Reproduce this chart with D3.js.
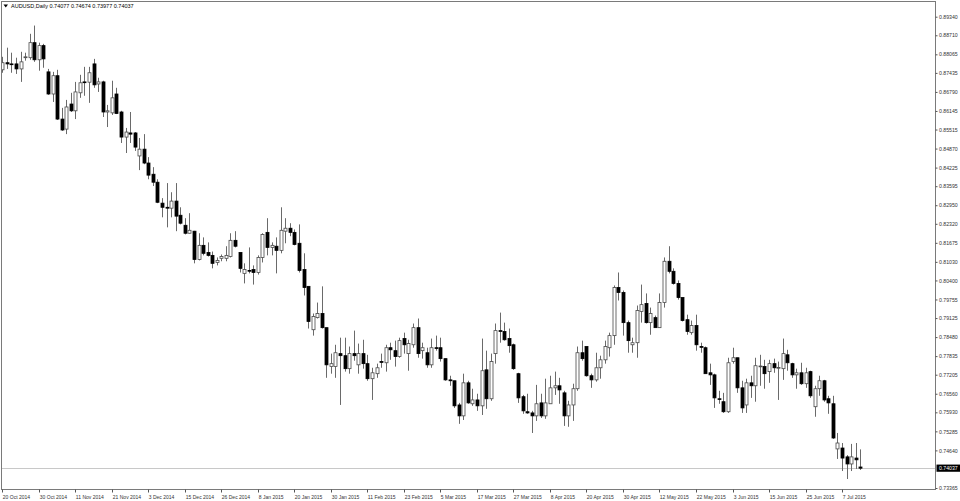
<!DOCTYPE html>
<html>
<head>
<meta charset="utf-8">
<script src="https://cdn.jsdelivr.net/npm/d3@7/dist/d3.min.js"></script>
<style>
  html,body{margin:0;padding:0;background:#fff;}
  svg{display:block;}
  text{font-family:"Liberation Sans",Arial,sans-serif;}
</style>
</head>
<body>
<svg id="chart" width="960" height="501"></svg>
<script>
const symbolTitle = "AUDUSD,Daily";
const headerValues = ["0.74077", "0.74674", "0.73977", "0.74037"];

const open = [0.8754,0.8778,0.8774,0.8774,0.8757,0.8795,0.8795,0.8846,0.8788,0.8836,
0.8747,0.8672,0.8734,0.8587,0.8553,0.8638,0.8615,0.8676,0.8713,0.8712,
0.8774,0.8706,0.8713,0.8611,0.8608,0.8672,0.8611,0.8526,0.8540,0.8540,
0.8462,0.8485,0.8438,0.8400,0.8373,0.8302,0.8288,0.8285,0.8309,0.8261,
0.8227,0.8200,0.8207,0.8111,0.8159,0.8135,0.8125,0.8101,0.8115,0.8115,
0.8121,0.8176,0.8135,0.8064,0.8074,0.8077,0.8067,0.8118,0.8203,0.8152,
0.8156,0.8142,0.8207,0.8217,0.8203,0.8166,0.8077,0.8020,0.7873,0.7914,
0.7928,0.7880,0.7748,0.7748,0.7792,0.7785,0.7741,0.7792,0.7754,0.7792,
0.7758,0.7707,0.7724,0.7765,0.7761,0.7812,0.7802,0.7782,0.7843,0.7792,
0.7822,0.7880,0.7802,0.7795,0.7754,0.7812,0.7812,0.7775,0.7703,0.7700,
0.7618,0.7581,0.7693,0.7622,0.7635,0.7615,0.7737,0.7639,0.7792,0.7870,
0.7867,0.7843,0.7822,0.7724,0.7646,0.7595,0.7591,0.7581,0.7625,0.7581,
0.7622,0.7676,0.7683,0.7659,0.7581,0.7618,0.7673,0.7795,0.7816,0.7717,
0.7703,0.7744,0.7771,0.7812,0.7853,0.8016,0.7999,0.7897,0.7822,0.7829,
0.7935,0.7962,0.7897,0.7914,0.7880,0.7965,0.8105,0.8071,0.8030,0.7982,
0.7907,0.7863,0.7887,0.7816,0.7812,0.7727,0.7720,0.7639,0.7629,0.7595,
0.7765,0.7778,0.7676,0.7618,0.7693,0.7683,0.7748,0.7748,0.7731,0.7758,
0.7744,0.7741,0.7788,0.7758,0.7720,0.7727,0.7690,0.7731,0.7612,0.7673,
0.7700,0.7639,0.7622,0.7469,0.7472,0.7442,0.7418,0.7438,0.74077];

const high = [0.8798,0.8829,0.8812,0.8795,0.8815,0.8812,0.8876,0.8904,0.8846,0.8842,
0.8757,0.8747,0.8754,0.8625,0.8652,0.8676,0.8713,0.8737,0.8764,0.8764,
0.8791,0.8727,0.8717,0.8635,0.8717,0.8693,0.8615,0.8557,0.8611,0.8543,
0.8523,0.8536,0.8458,0.8424,0.8383,0.8319,0.8370,0.8339,0.8370,0.8288,
0.8251,0.8268,0.8208,0.8200,0.8186,0.8169,0.8138,0.8118,0.8128,0.8156,
0.8200,0.8207,0.8135,0.8098,0.8152,0.8091,0.8125,0.8200,0.8251,0.8169,
0.8186,0.8288,0.8251,0.8234,0.8213,0.8230,0.8132,0.8020,0.7928,0.7965,
0.8020,0.7880,0.7792,0.7822,0.7846,0.7846,0.7816,0.7870,0.7826,0.7839,
0.7788,0.7744,0.7758,0.7792,0.7822,0.7829,0.7836,0.7846,0.7863,0.7839,
0.7894,0.7911,0.7829,0.7812,0.7843,0.7853,0.7846,0.7775,0.7717,0.7700,
0.7625,0.7724,0.7700,0.7673,0.7656,0.7843,0.7802,0.7792,0.7894,0.7931,
0.7897,0.7877,0.7826,0.7727,0.7652,0.7656,0.7598,0.7686,0.7656,0.7707,
0.7717,0.7731,0.7710,0.7666,0.7632,0.7690,0.7816,0.7836,0.7816,0.7724,
0.7795,0.7785,0.7836,0.7863,0.8023,0.8067,0.8006,0.7904,0.7846,0.7955,
0.8026,0.7996,0.7948,0.7921,0.7996,0.8118,0.8156,0.8081,0.8040,0.7982,
0.7924,0.7904,0.7924,0.7829,0.7816,0.7758,0.7724,0.7666,0.7659,0.7778,
0.7812,0.7778,0.7700,0.7707,0.7717,0.7778,0.7788,0.7771,0.7771,0.7775,
0.7765,0.7843,0.7805,0.7761,0.7741,0.7761,0.7744,0.7734,0.7683,0.7717,
0.7703,0.7649,0.7649,0.7523,0.7489,0.7448,0.7486,0.7489,0.74674];

const low = [0.8744,0.8757,0.8744,0.8740,0.8713,0.8785,0.8788,0.8781,0.8751,0.8761,
0.8669,0.8645,0.8584,0.8547,0.8536,0.8611,0.8587,0.8659,0.8666,0.8642,
0.8693,0.8679,0.8594,0.8560,0.8601,0.8604,0.8506,0.8472,0.8506,0.8479,
0.8414,0.8434,0.8383,0.8360,0.8302,0.8254,0.8220,0.8254,0.8207,0.8230,
0.8196,0.8199,0.8098,0.8108,0.8125,0.8121,0.8081,0.8091,0.8105,0.8105,
0.8118,0.8152,0.8067,0.8030,0.8064,0.8026,0.8060,0.8101,0.8125,0.8125,
0.8064,0.8132,0.8166,0.8190,0.8159,0.8067,0.7989,0.7877,0.7853,0.7911,
0.7877,0.7710,0.7724,0.7710,0.7618,0.7731,0.7724,0.7768,0.7724,0.7741,
0.7700,0.7635,0.7710,0.7744,0.7731,0.7771,0.7748,0.7778,0.7792,0.7734,
0.7812,0.7778,0.7775,0.7744,0.7744,0.7802,0.7765,0.7700,0.7683,0.7608,
0.7554,0.7567,0.7622,0.7615,0.7598,0.7584,0.7605,0.7632,0.7758,0.7829,
0.7836,0.7795,0.7737,0.7625,0.7588,0.7588,0.7523,0.7564,0.7574,0.7571,
0.7622,0.7652,0.7622,0.7547,0.7544,0.7564,0.7666,0.7768,0.7714,0.7676,
0.7697,0.7707,0.7758,0.7782,0.7822,0.7972,0.7853,0.7795,0.7795,0.7778,
0.7897,0.7894,0.7856,0.7880,0.7880,0.7948,0.8064,0.8026,0.7975,0.7901,
0.7856,0.7856,0.7802,0.7795,0.7724,0.7686,0.7608,0.7622,0.7591,0.7591,
0.7758,0.7659,0.7591,0.7591,0.7642,0.7629,0.7683,0.7673,0.7693,0.7727,
0.7635,0.7703,0.7734,0.7710,0.7673,0.7686,0.7676,0.7642,0.7578,0.7649,
0.7629,0.7588,0.7503,0.7435,0.7394,0.7367,0.7394,0.7401,0.73977];

const close = [0.8778,0.8774,0.8773,0.8757,0.8781,0.8798,0.8846,0.8788,0.8836,0.8791,
0.8672,0.8734,0.8587,0.8550,0.8628,0.8615,0.8679,0.8710,0.8712,0.8744,
0.8703,0.8713,0.8611,0.8615,0.8659,0.8606,0.8526,0.8543,0.8536,0.8492,
0.8485,0.8438,0.8397,0.8373,0.8305,0.8288,0.8285,0.8309,0.8258,0.8234,
0.8200,0.8210,0.8111,0.8159,0.8132,0.8125,0.8098,0.8108,0.8121,0.8125,
0.8176,0.8156,0.8081,0.8077,0.8073,0.8067,0.8118,0.8196,0.8152,0.8159,
0.8142,0.8210,0.8217,0.8203,0.8162,0.8074,0.8016,0.7901,0.7918,0.7928,
0.7880,0.7754,0.7758,0.7795,0.7785,0.7741,0.7792,0.7785,0.7792,0.7758,
0.7707,0.7727,0.7744,0.7764,0.7812,0.7805,0.7782,0.7836,0.7822,0.7826,
0.7880,0.7792,0.7812,0.7754,0.7812,0.7811,0.7775,0.7703,0.7700,0.7615,
0.7581,0.7693,0.7625,0.7635,0.7615,0.7734,0.7639,0.7765,0.7870,0.7869,
0.7839,0.7819,0.7741,0.7642,0.7598,0.7591,0.7581,0.7622,0.7581,0.7625,
0.7676,0.7683,0.7669,0.7581,0.7618,0.7673,0.7795,0.7775,0.7717,0.7703,
0.7744,0.7771,0.7816,0.7853,0.8016,0.7999,0.7897,0.7836,0.7829,0.7938,
0.7958,0.7897,0.7928,0.7880,0.7965,0.8105,0.8071,0.8030,0.7982,0.7904,
0.7867,0.7887,0.7822,0.7815,0.7724,0.7720,0.7642,0.7638,0.7595,0.7761,
0.7778,0.7676,0.7608,0.7693,0.7683,0.7751,0.7750,0.7724,0.7758,0.7744,
0.7745,0.7792,0.7761,0.7720,0.7727,0.7690,0.7727,0.7649,0.7673,0.7700,
0.7635,0.7625,0.7506,0.7489,0.7438,0.7418,0.7442,0.7432,0.74037];

const priceTicks = [0.89340,0.88710,0.88065,0.87435,0.86790,0.86145,0.85515,0.84870,0.84225,
0.83595,0.82950,0.82320,0.81675,0.81030,0.80400,0.79755,0.79125,0.78480,0.77835,
0.77205,0.76560,0.75930,0.75285,0.74640,0.73365];

const dateLabels = ["20 Oct 2014","30 Oct 2014","11 Nov 2014","21 Nov 2014","3 Dec 2014",
"15 Dec 2014","26 Dec 2014","8 Jan 2015","20 Jan 2015","30 Jan 2015","11 Feb 2015",
"23 Feb 2015","5 Mar 2015","17 Mar 2015","27 Mar 2015","8 Apr 2015","20 Apr 2015",
"30 Apr 2015","12 May 2015","22 May 2015","3 Jun 2015","15 Jun 2015","25 Jun 2015","7 Jul 2015"];
const barsPerLabel = 8;

const lastPrice = 0.74037;

// ---- layout ----
const W = 960, H = 501;
const frame = {left: 1.5, top: 1.5, right: 935.5, bottom: 489.5};
const svg = d3.select("#chart");

const n = open.length;
const candles = d3.range(n).map(i => ({i, o: open[i], h: high[i], l: low[i], c: close[i]}));

const x = d3.scaleLinear().domain([0, n - 1]).range([2.3, 860.3]);
const y = d3.scaleLinear().domain([0.73365, 0.89340]).range([488, 16.7]);

svg.append("defs").append("clipPath").attr("id", "plotclip")
  .append("rect").attr("x", frame.left + 0.5).attr("y", frame.top + 0.5)
  .attr("width", frame.right - frame.left - 1).attr("height", frame.bottom - frame.top - 1);

// current price line
svg.append("line")
  .attr("x1", frame.left).attr("x2", frame.right)
  .attr("y1", Math.round(y(lastPrice)) + 0.5).attr("y2", Math.round(y(lastPrice)) + 0.5)
  .attr("stroke", "#c8c8c8").attr("stroke-width", 1);

const plot = svg.append("g").attr("clip-path", "url(#plotclip)");

const bodyW = 3;
const g = plot.selectAll("g.candle").data(candles).join("g").attr("class", "candle");

g.append("line")
  .attr("x1", d => Math.round(x(d.i)) + 0.5).attr("x2", d => Math.round(x(d.i)) + 0.5)
  .attr("y1", d => y(d.h)).attr("y2", d => y(d.l))
  .attr("stroke", "#6a6a6a").attr("stroke-width", 1);

g.append("rect")
  .attr("x", d => Math.round(x(d.i)) + 0.5 - bodyW / 2)
  .attr("width", bodyW)
  .attr("y", d => y(Math.max(d.o, d.c)))
  .attr("height", d => Math.max(0.8, Math.abs(y(d.o) - y(d.c))))
  .attr("fill", d => d.c > d.o ? "#ffffff" : "#000000")
  .attr("stroke", d => d.c > d.o ? "#4a4a4a" : "#000000")
  .attr("stroke-width", 0.8);

// frame
svg.append("rect")
  .attr("x", frame.left).attr("y", frame.top)
  .attr("width", frame.right - frame.left).attr("height", frame.bottom - frame.top)
  .attr("fill", "none").attr("stroke", "#7a7a7a").attr("stroke-width", 1);

// price axis
const yAxis = d3.axisRight(y).tickValues(priceTicks).tickSize(2).tickPadding(1.5)
  .tickFormat(d3.format(".5f"));
const ya = svg.append("g").attr("transform", `translate(${frame.right},0)`).call(yAxis);
ya.select(".domain").remove();
ya.selectAll(".tick line").attr("stroke", "#555");
ya.selectAll(".tick text").attr("fill", "#333").attr("font-size", 5.2)
  .attr("font-family", "'Liberation Sans', Arial, sans-serif");

// last price label
const ly = y(lastPrice);
svg.append("rect").attr("x", frame.right + 1).attr("y", ly - 3.6)
  .attr("width", W - frame.right - 1).attr("height", 7.2).attr("fill", "#000");
svg.append("text").attr("x", frame.right + 3.5).attr("y", ly)
  .attr("dy", "0.35em").attr("fill", "#fff").attr("font-size", 5.2)
  .text(d3.format(".5f")(lastPrice));

// date axis
const xa = svg.append("g");
dateLabels.forEach((lab, k) => {
  const xi = Math.round(x(k * barsPerLabel)) + 0.5;
  xa.append("line").attr("x1", xi).attr("x2", xi)
    .attr("y1", frame.bottom).attr("y2", frame.bottom + 3)
    .attr("stroke", "#555").attr("stroke-width", 1);
  xa.append("text").attr("x", xi + 0.3).attr("y", frame.bottom + 7.5)
    .attr("dy", "0.35em").attr("font-size", 5).attr("fill", "#333").text(lab);
});

// header
svg.append("path").attr("d", "M3.5,4.5 L8,4.5 L5.75,7.5 Z").attr("fill", "#000");
svg.append("text").attr("x", 11).attr("y", 6)
  .attr("dy", "0.35em").attr("font-size", 5.5).attr("fill", "#000")
  .text(symbolTitle + "  " + headerValues.join(" "));
</script>
</body>
</html>
